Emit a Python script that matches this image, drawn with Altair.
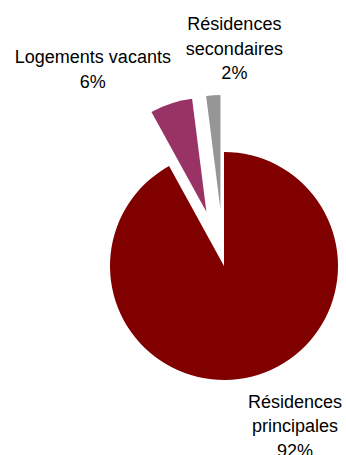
import altair as alt
import pandas as pd

categories = ["Résidences principales", "Logements vacants", "Résidences secondaires"]
labels = ["Résidences\nprincipales", "Logements vacants", "Résidences\nsecondaires"]
values = [92, 6, 2]
colors = ["#800000", "#993366", "#969696"]

df = pd.DataFrame({"cat": categories, "label": labels, "value": values,
                   "order": list(range(len(values)))})

CX, CY, R, EXPLODE = 224, 266, 114, 57

base = (
    alt.Chart(df)
    .transform_joinaggregate(total="sum(value)")
    .transform_stack(stack="value", groupby=[], as_=["s0", "s1"],
                     sort=[alt.SortField("order", order="ascending")])
    .transform_calculate(a0="datum.s0 / datum.total * 2 * PI")
    .transform_calculate(a1="datum.s1 / datum.total * 2 * PI")
    .transform_calculate(mid="(datum.a0 + datum.a1) / 2")
    .transform_calculate(ex=f"datum.order == 0 ? 0 : {EXPLODE}")
    .transform_calculate(cx=f"{CX} + datum.ex * sin(datum.mid)")
    .transform_calculate(cy=f"{CY} - datum.ex * cos(datum.mid)")
    .transform_calculate(txt="datum.label + '\\n' + datum.value + '%'")
)

pos = dict(
    x=alt.X("cx:Q", scale=None, axis=None),
    y=alt.Y("cy:Q", scale=None, axis=None),
)

arcs = base.mark_arc(radius=R).encode(
    **pos,
    theta=alt.Theta("a0:Q", scale=None),
    theta2="a1:Q",
    color=alt.Color("cat:N", scale=alt.Scale(domain=categories, range=colors), legend=None),
)

label_cfg = [(0, 165, 30, -23), (1, 170, -61, 8), (2, 160, 24, -24)]
texts = []
for i, r, dx, dy in label_cfg:
    texts.append(
        base.transform_filter(f"datum.order == {i}")
        .mark_text(radius=r, dx=dx, dy=dy, fontSize=18, font="Liberation Sans",
                   lineBreak="\n", lineHeight=24.5, align="center", baseline="middle",
                   color="#000000")
        .encode(**pos, theta=alt.Theta("mid:Q", scale=None), text="txt:N")
    )

chart = (
    alt.layer(arcs, *texts)
    .properties(width=346, height=455, autosize="none", padding=0)
    .configure_view(stroke=None)
)

chart.save("out.html", embed_options={"renderer": "svg", "actions": False})
